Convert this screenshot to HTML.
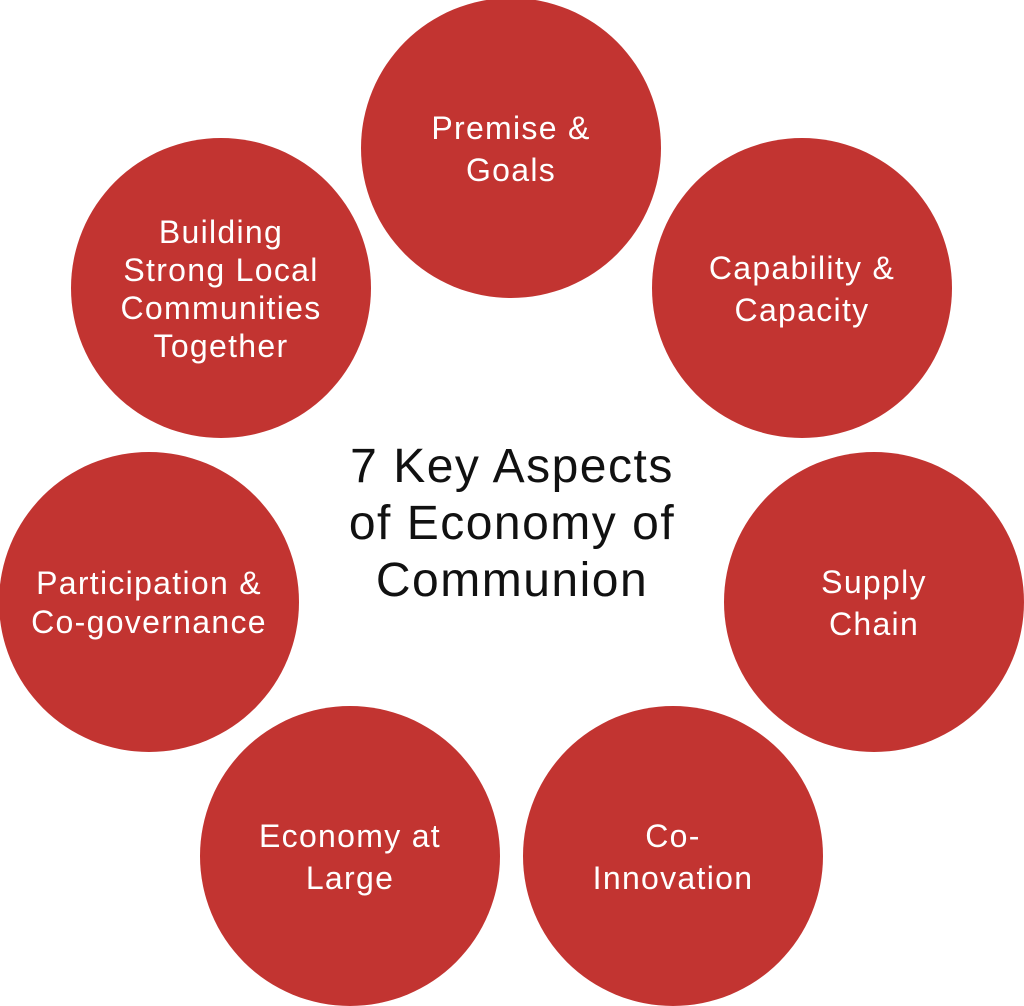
<!DOCTYPE html>
<html><head><meta charset="utf-8"><style>
html,body{margin:0;padding:0;background:#fff;}
body{width:1024px;height:1006px;position:relative;overflow:hidden;font-family:"Liberation Sans",sans-serif;}
.c{position:absolute;width:300px;height:300px;border-radius:50%;background:#c23431;color:#fff;display:flex;align-items:center;justify-content:center;text-align:center;font-size:32px;line-height:39px;letter-spacing:1.3px;white-space:nowrap;}
.c span{display:block;margin-top:2px}
.t{position:absolute;left:262px;top:438px;width:500px;text-align:center;font-size:48px;line-height:57px;color:#111;letter-spacing:1.5px;}
</style></head><body>
<div class="c" style="left:361px;top:-2px"><span style="line-height:42px">Premise &amp;<br>Goals</span></div>
<div class="c" style="left:652px;top:138px"><span style="line-height:42px">Capability &amp;<br>Capacity</span></div>
<div class="c" style="left:724px;top:452px"><span style="line-height:42px">Supply<br>Chain</span></div>
<div class="c" style="left:523px;top:706px"><span style="line-height:42px">Co-<br>Innovation</span></div>
<div class="c" style="left:200px;top:706px"><span style="line-height:42px">Economy at<br>Large</span></div>
<div class="c" style="left:-1px;top:452px"><span>Participation &amp;<br>Co-governance</span></div>
<div class="c" style="left:71px;top:138px"><span style="line-height:38px">Building<br>Strong Local<br>Communities<br>Together</span></div>
<div class="t">7 Key Aspects<br>of Economy of<br>Communion</div>
</body></html>
